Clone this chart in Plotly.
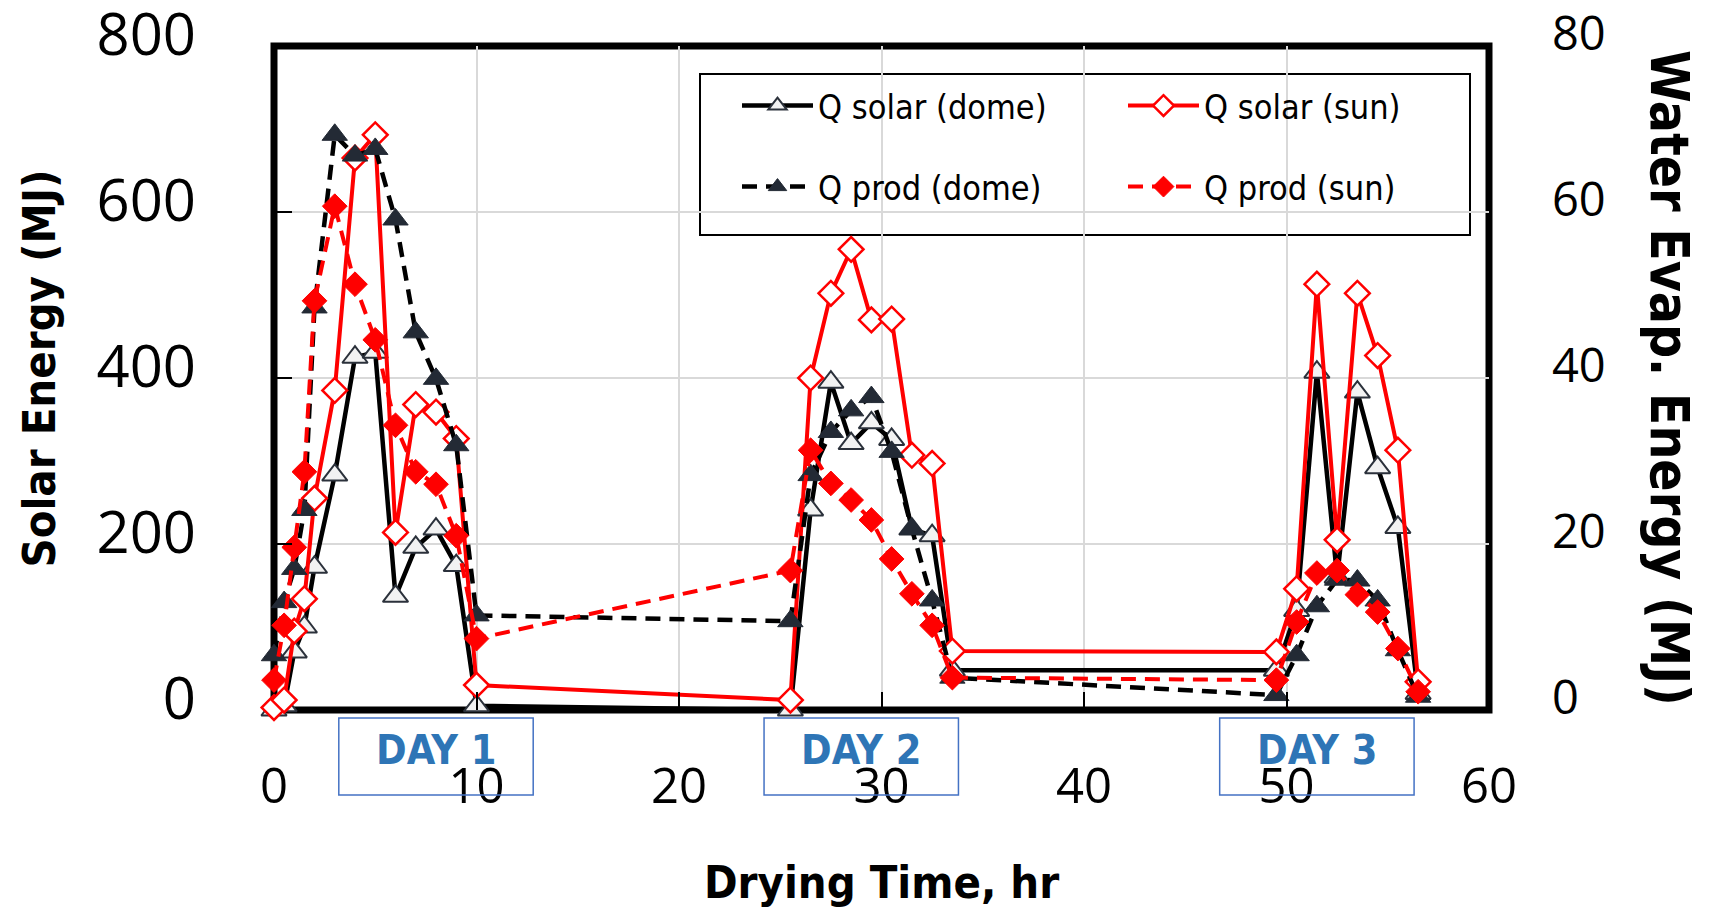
import plotly.graph_objects as go

# ---------------- data ----------------
time_h = [0, 0.5, 1, 1.5, 2, 3, 4, 5, 6, 7, 8, 9, 10,
          25.5, 26.5, 27.5, 28.5, 29.5, 30.5, 31.5, 32.5, 33.5,
          49.5, 50.5, 51.5, 52.5, 53.5, 54.5, 55.5, 56.5]

# solar energy received (MJ, left axis)
q_solar_dome = [0, 5, 70, 100, 172, 283, 425, 431, 137, 196, 218, 174, 5,
                0, 241, 395, 321, 346, 326, 218, 210, 48,
                48, 120, 407, 160, 383, 292, 220, 20]
q_solar_sun = [3, 12, 95, 134, 255, 385, 665, 693, 214, 368, 359, 327, 30,
               12, 400, 502, 555, 470, 471, 307, 297, 71,
               70, 146, 513, 205, 502, 427, 313, 34]

# water evaporation energy (MJ, right axis)
q_prod_dome = [6.6, 13.0, 17.0, 24.1, 48.5, 69.3, 66.8, 67.6, 59.1, 45.5, 39.9, 31.9, 11.4,
               10.7, 28.3, 33.5, 36.1, 37.7, 31.1, 21.8, 13.2, 3.9,
               1.8, 6.6, 12.5, 15.7, 15.6, 13.2, 7.2, 1.6]
q_prod_sun = [3.6, 10.2, 19.6, 28.7, 49.3, 60.7, 51.3, 44.6, 34.3, 28.7, 27.2, 21.0, 8.6,
              16.8, 31.3, 27.3, 25.3, 22.9, 18.2, 14.0, 10.2, 3.9,
              3.6, 10.6, 16.5, 16.8, 13.9, 11.8, 7.4, 2.2]

day_labels = ["DAY 1", "DAY 2", "DAY 3"]
day_centers = [8, 29, 51.5]

# ---------------- geometry ----------------
W, H = 1711, 910
L, R, T, B = 274, 222, 46, 200
PW = W - L - R
PH = H - T - B


def px_x(px):
    return (px - L) / PW


def px_y(py):
    return (H - B - py) / PH


DARK = "#232a35"
RED = "#ff0000"
TITLE_FONT = "DejaVu Sans Condensed, DejaVu Sans, sans-serif"
TICK_FONT = "Open Sans"
LEG_FONT = "DejaVu Sans Condensed, DejaVu Sans, sans-serif"

fig = go.Figure()

fig.add_trace(go.Scatter(
    x=time_h, y=q_solar_dome, name="Q solar (dome)", mode="lines+markers",
    line=dict(color="black", width=4.5),
    marker=dict(symbol="triangle-up", size=22, color="#f2f2f2",
                line=dict(color="#2b313b", width=2)),
    cliponaxis=False, legend="legend"))

fig.add_trace(go.Scatter(
    x=time_h, y=q_solar_sun, name="Q solar (sun)", mode="lines+markers",
    line=dict(color=RED, width=4),
    marker=dict(symbol="diamond", size=19, color="white",
                line=dict(color=RED, width=2.5)),
    cliponaxis=False, legend="legend"))

fig.add_trace(go.Scatter(
    x=time_h, y=q_prod_dome, name="Q prod (dome)", mode="lines+markers", yaxis="y2",
    line=dict(color="black", width=4.5, dash="15px,9px"),
    marker=dict(symbol="triangle-up", size=22, color=DARK,
                line=dict(color=DARK, width=1)),
    cliponaxis=False, legend="legend2"))

fig.add_trace(go.Scatter(
    x=time_h, y=q_prod_sun, name="Q prod (sun)", mode="lines+markers", yaxis="y2",
    line=dict(color=RED, width=4, dash="15px,9px"),
    marker=dict(symbol="diamond", size=19, color=RED,
                line=dict(color=RED, width=1)),
    cliponaxis=False, legend="legend2"))

shapes = [
    # plot frame
    dict(type="rect", xref="paper", yref="paper", x0=0, x1=1, y0=0, y1=1,
         line=dict(color="black", width=7), layer="between"),
    # legend frame
    dict(type="rect", xref="paper", yref="paper",
         x0=px_x(700), x1=px_x(1470), y0=px_y(235), y1=px_y(74),
         line=dict(color="black", width=2), fillcolor="white", layer="between"),
]
annotations = []
for lab, c in zip(day_labels, day_centers):
    shapes.append(dict(type="rect", xref="x", yref="paper",
                       x0=c - 4.8, x1=c + 4.8, y0=px_y(795), y1=px_y(718),
                       line=dict(color="#4472c4", width=1.5), layer="above"))
    annotations.append(dict(xref="x", yref="paper", x=c, y=px_y(750),
                            text="<b>%s</b>" % lab, showarrow=False,
                            xanchor="center", yanchor="middle",
                            font=dict(family=TITLE_FONT, size=41, color="#2e75b6")))

annotations += [
    dict(xref="paper", yref="paper", x=px_x(38.5), y=px_y(369),
         text="<b>Solar Energy (MJ)</b>", textangle=-90, showarrow=False,
         xanchor="center", yanchor="middle",
         font=dict(family=TITLE_FONT, size=45, color="black")),
    dict(xref="paper", yref="paper", x=px_x(1670), y=px_y(378),
         text="<b>Water Evap. Energy (MJ)</b>", textangle=90, showarrow=False,
         xanchor="center", yanchor="middle",
         font=dict(family=TITLE_FONT, size=53, color="black")),
    dict(xref="paper", yref="paper", x=px_x(881.5), y=px_y(882),
         text="<b>Drying Time, hr</b>", showarrow=False,
         xanchor="center", yanchor="middle",
         font=dict(family=TITLE_FONT, size=45, color="black")),
]

legend_common = dict(orientation="h", xanchor="left", yanchor="top",
                     bgcolor="rgba(0,0,0,0)", borderwidth=0,
                     font=dict(family=LEG_FONT, size=34, color="black"),
                     itemwidth=71, entrywidth=300, entrywidthmode="pixels")

fig.update_layout(
    width=W, height=H,
    margin=dict(l=L, r=R, t=T, b=B, autoexpand=False),
    paper_bgcolor="white", plot_bgcolor="white",
    showlegend=True,
    xaxis=dict(range=[0, 60], tick0=0, dtick=10, showgrid=True,
               gridcolor="#d9d9d9", gridwidth=2, zeroline=False, showline=False,
               ticks="inside", ticklen=18, tickwidth=2, tickcolor="black",
               tickfont=dict(family=TICK_FONT, size=49, color="black"),
               ticklabelstandoff=43, ticklabeloverflow="allow", automargin=False),
    yaxis=dict(range=[0, 800], tick0=0, dtick=200, showgrid=True,
               gridcolor="#d9d9d9", gridwidth=2, zeroline=False, showline=False,
               ticks="inside", ticklen=18, tickwidth=2, tickcolor="black",
               tickfont=dict(family=TICK_FONT, size=58, color="black"),
               ticklabelstandoff=77, ticklabelshift=-11,
               ticklabeloverflow="allow", automargin=False),
    yaxis2=dict(range=[0, 80], tick0=0, dtick=20, overlaying="y", side="right",
                showgrid=False, zeroline=False, showline=False, ticks="",
                tickfont=dict(family=TICK_FONT, size=47, color="black"),
                ticklabelstandoff=62, ticklabelshift=-12,
                ticklabeloverflow="allow", automargin=False),
    legend=dict(x=px_x(737), y=px_y(77), **legend_common),
    legend2=dict(x=px_x(737), y=px_y(158), **legend_common),
    shapes=shapes,
    annotations=annotations,
)

fig.write_html("out.html")
